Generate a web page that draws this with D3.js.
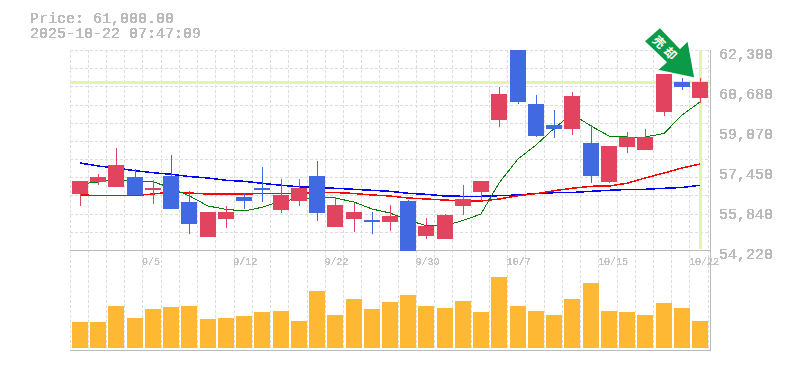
<!DOCTYPE html>
<html><head><meta charset="utf-8">
<script src="https://cdn.jsdelivr.net/npm/d3@7/dist/d3.min.js"></script>
<style>html,body{margin:0;padding:0;background:#fff}svg{display:block}</style>
</head><body><svg id="c" width="785" height="370"></svg>
<script>
const dates=["9/1","9/2","9/3","9/4","9/5","9/8","9/9","9/10","9/11","9/12","9/16","9/17","9/18","9/19","9/22","9/24","9/25","9/26","9/29","9/30","10/1","10/2","10/3","10/6","10/7","10/8","10/9","10/10","10/14","10/15","10/16","10/17","10/20","10/21","10/22"];
const open=[56482,56967,56765,57169,56644,57210,56159,54745,55472,56361,56725,55836,56199,57210,55149,55472,55432,55351,56199,54786,54664,55998,56563,59472,62300,60118,59270,59108,58543,56967,58381,58260,59795,61000,60361];
const high=[57008,57290,58341,57492,57048,58058,56604,55755,55998,56523,57573,57088,57088,57816,56361,56119,55755,56038,56240,55513,55674,56846,57008,60805,62300,60482,59876,60603,59270,58422,58987,59108,61330,61170,61170];
const low=[55998,56846,56765,56442,56078,55876,54866,54745,55109,55876,56159,55715,55998,55392,55149,54947,54866,54988,54180,54664,54664,55634,56199,59189,60118,58785,58745,58866,56927,56927,58139,58260,59634,60684,60159];
const close=[57008,57169,57654,56442,56725,55876,55270,55755,55755,56199,56644,56442,56725,55715,56038,55755,55351,55594,54180,55190,55634,56280,57008,60522,60199,58826,59108,60442,57210,58422,58785,58785,61330,60805,61000];
const maShort=[56886,56967,57068,57008,56979,56725,56414,55998,55864,55796,55945,56199,56280,56321,56321,56159,55876,55715,55432,55202,55202,55412,55674,56927,57896,58462,59129,59714,59230,58826,58785,58785,58927,59674,60199];
const maMid=[56442,56422,56422,56422,56482,56563,56523,56482,56482,56482,56503,56503,56503,56523,56543,56503,56442,56402,56321,56280,56240,56199,56199,56280,56414,56495,56616,56713,56794,56806,56915,57129,57331,57533,57694];
const maLong=[57735,57614,57533,57424,57343,57278,57189,57129,57036,56995,56915,56834,56777,56745,56713,56672,56632,56591,56511,56470,56402,56389,56389,56414,56442,56503,56535,56543,56591,56632,56664,56672,56713,56745,56834];
const volume=[26,26,42,30,39,41,42,29,30,32,36,37,27,57,33,49,39,46,53,42,40,47,36,71,42,37,33,49,65,37,36,33,45,40,27];
const priceTicks=[62300,60680,59070,57450,55840,54220];
const dateTicks=["9/5","9/12","9/22","9/30","10/7","10/15","10/22"];
const lastPrice=61000;
const titleLines=["Price: 61,000.00","2025-10-22 07:47:09"];
const stampText="売却";

const svg=d3.select("#c");
const x=d3.scaleBand().domain(dates).range([71,709.225]);
const y=d3.scaleLinear().domain([54220,62300]).range([250,50]);
const v=d3.scaleLinear().domain([0,71]).range([348,277]);
const RED="#e2435f",BLUE="#4169e1",GRID="#dddddd",AXIS="#bbbbbb",TXT="#bbbbbb",PRICE="#e4f4a8";
const left=d=>Math.round(x(d)+1), mid=d=>left(d)+8;

const defs=svg.append("defs");
const f=defs.append("filter").attr("id","mono").attr("color-interpolation-filters","sRGB")
  .attr("x","-5%").attr("y","-20%").attr("width","110%").attr("height","140%");
f.append("feComponentTransfer").append("feFuncA").attr("type","discrete").attr("tableValues","0 1 1 1");

// grid
const grid=svg.append("g").attr("stroke",GRID).attr("stroke-dasharray","3,2").attr("shape-rendering","crispEdges");
const vLines=d3.range(dates.length+1).map(i=>70+i*x.step());
grid.selectAll("line.v").data(vLines).join("line").attr("class","v")
  .attr("x1",d=>Math.floor(d)+.5).attr("x2",d=>Math.floor(d)+.5).attr("y1",50).attr("y2",350);
grid.selectAll("line.h").data(d3.range(11)).join("line").attr("class","h")
  .attr("x1",70).attr("x2",710).attr("y1",d=>Math.round(50+d*200/11)+.5).attr("y2",d=>Math.round(50+d*200/11)+.5);

// current price guide lines
const last=dates[dates.length-1];
svg.append("rect").attr("x",70).attr("width",640).attr("y",Math.round(y(lastPrice))-1).attr("height",3).attr("fill",PRICE);
svg.append("rect").attr("x",mid(last)-1).attr("width",3).attr("y",50).attr("height",199).attr("fill",PRICE);

// frame
const frame=svg.append("g").attr("stroke",AXIS).attr("stroke-width",1).attr("shape-rendering","crispEdges");
frame.append("line").attr("x1",70).attr("x2",711).attr("y1",250.5).attr("y2",250.5);
frame.append("line").attr("x1",70).attr("x2",711).attr("y1",350.5).attr("y2",350.5);
frame.append("line").attr("x1",710.5).attr("x2",710.5).attr("y1",50).attr("y2",351);

// moving averages
const line=d3.line().x((d,i)=>mid(dates[i])).y(d=>y(d));
[[maLong,"#0000ff",1.5],[maMid,"#ff0000",1.5],[maShort,"#008000",1]].forEach(([s,c,w])=>
  svg.append("path").attr("d",line(s)).attr("fill","none").attr("stroke",c).attr("stroke-width",w).attr("shape-rendering","crispEdges"));

// candles
const col=i=>close[i]>=open[i]?RED:BLUE;
const cs=svg.append("g").attr("shape-rendering","crispEdges");
cs.selectAll("rect.w").data(dates).join("rect").attr("class","w")
  .attr("x",d=>mid(d)).attr("width",1)
  .attr("y",(d,i)=>y(high[i])).attr("height",(d,i)=>y(low[i])-y(high[i])).attr("fill",(d,i)=>col(i));
cs.selectAll("rect.b").data(dates).join("rect").attr("class","b")
  .attr("x",d=>left(d)).attr("width",16)
  .attr("y",(d,i)=>y(Math.max(open[i],close[i])))
  .attr("height",(d,i)=>Math.abs(y(open[i])-y(close[i]))).attr("fill",(d,i)=>col(i));

// volume
svg.append("g").attr("shape-rendering","crispEdges").selectAll("rect").data(dates).join("rect")
  .attr("x",d=>left(d)).attr("width",16)
  .attr("y",(d,i)=>v(volume[i])).attr("height",(d,i)=>348-v(volume[i])).attr("fill","#ffb833");

// axes
const yAxis=svg.append("g").attr("transform","translate(719,0)").attr("filter","url(#mono)")
  .call(d3.axisRight(y).tickValues(priceTicks).tickSize(0).tickPadding(0).tickFormat(d3.format(",")));
yAxis.select(".domain").remove();
yAxis.selectAll("text").attr("x",0).attr("dy","0.55em").attr("fill",TXT)
  .attr("font-family","'Liberation Mono'").attr("font-size",15);
const xAxis=svg.append("g").attr("transform","translate(0,250)").attr("filter","url(#mono)")
  .call(d3.axisBottom(x).tickValues(dateTicks).tickSize(0).tickPadding(0));
xAxis.select(".domain").remove();
xAxis.selectAll("text").attr("text-anchor","start").attr("x",-11).attr("y",15).attr("dy",0).attr("fill","#c4c4c4")
  .attr("font-family","'Liberation Mono'").attr("font-size",10);

// title
svg.append("g").attr("filter","url(#mono)").selectAll("text").data(titleLines).join("text")
  .attr("x",30).attr("y",(d,i)=>23+i*15).attr("fill",TXT)
  .attr("font-family","'Liberation Mono'").attr("font-size",15).text(d=>d);

// stamp, anchored on the last candle's close
const stamp=svg.append("g").attr("transform",`translate(${mid(last)-5},${y(lastPrice)-4})`);
stamp.append("path").attr("d","M-51,-37 L-35,-51 L-15,-30 L-7,-38 L0,0 L-38,-8 L-29,-16 Z")
  .attr("fill","#0a9a48").attr("stroke","#fff").attr("stroke-width",1.5).attr("stroke-linejoin","miter");
stamp.append("text").attr("transform","translate(-29,-29) rotate(45)").attr("text-anchor","middle").attr("dy","0.36em")
  .attr("fill","#fff").attr("font-family","'Noto Sans CJK JP'").attr("font-weight",700).attr("font-size",12).attr("letter-spacing",4).text(stampText);
</script></body></html>
